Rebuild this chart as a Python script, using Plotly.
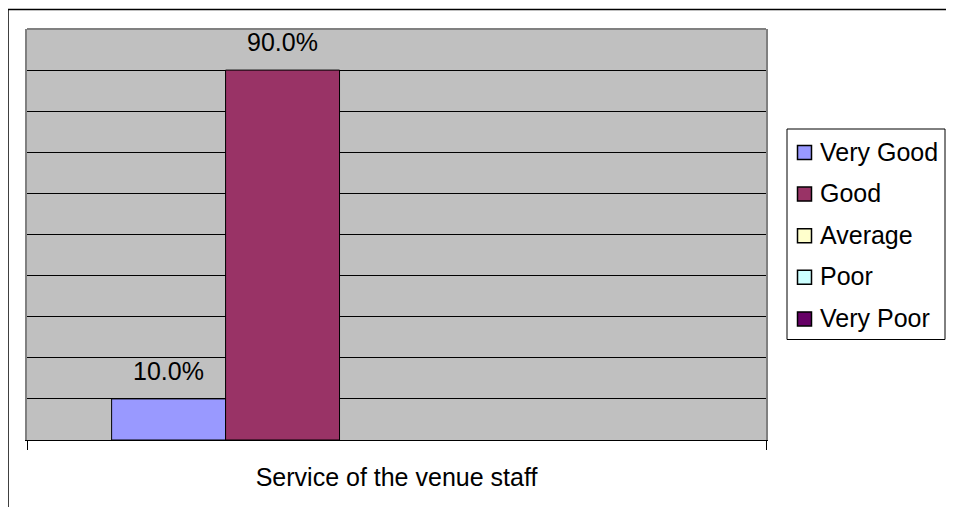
import plotly.graph_objects as go

# data
category = ["Service of the venue staff"]
series = ["Very Good", "Good", "Average", "Poor", "Very Poor"]
values = [10.0, 90.0, 0.0, 0.0, 0.0]
colors = ["#9999FF", "#993366", "#FFFFCC", "#CCFFFF", "#660066"]

OFF = 8  # page body margin
W, H = 954 - OFF, 515 - 2 * OFF  # keep the page free of scrollbars
ML, MT = 27 - OFF, 29 - OFF
PW, PH = 739, 411
MR, MB = W - ML - PW, H - MT - PH
BARGAP = 0.229
FONT = "Liberation Sans, Arial, sans-serif"


def px_x(x):
    # page pixel -> paper coordinate
    return (x - OFF - ML) / PW


def px_y(y):
    return (MT + PH - (y - OFF)) / PH


fig = go.Figure()
for name, v, c in zip(series, values, colors):
    fig.add_trace(go.Bar(
        x=category, y=[v], name=name, showlegend=False,
        marker=dict(color=c, line=dict(color="black", width=1 if v else 0)),
    ))

# data labels above the bars
bar_px = PW * (1 - BARGAP) / len(series)
for i, v in enumerate(values):
    if v:
        fig.add_annotation(
            x=category[0], y=v, text=f"{v:.1f}%", showarrow=False,
            yanchor="bottom", yshift=12,
            xshift=(i - (len(series) - 1) / 2) * bar_px,
            font=dict(size=25, color="black", family=FONT),
        )

# plot area top border (gray) and outer chart frame
fig.add_shape(type="line", xref="paper", yref="paper", x0=0, x1=1, y0=1, y1=1,
              line=dict(color="#808080", width=2), layer="above")
fig.add_shape(type="line", xref="paper", yref="paper",
              x0=px_x(8), x1=px_x(960), y0=px_y(9.5), y1=px_y(9.5),
              line=dict(color="black", width=1.5))
fig.add_shape(type="line", xref="paper", yref="paper",
              x0=px_x(8), x1=px_x(8), y0=px_y(9.5), y1=px_y(520),
              line=dict(color="black", width=1.5))

# legend box, drawn by hand to match the row spacing
fig.add_shape(type="rect", xref="paper", yref="paper",
              x0=px_x(787), x1=px_x(945), y0=px_y(129), y1=px_y(339.5),
              line=dict(color="black", width=1), fillcolor="white")
row_y0, row_step = 152.5, 41.6
for i, (name, c) in enumerate(zip(series, colors)):
    yc = row_y0 + i * row_step
    fig.add_shape(type="rect", xref="paper", yref="paper",
                  x0=px_x(797.5), x1=px_x(811.5), y0=px_y(yc - 7), y1=px_y(yc + 7),
                  line=dict(color="black", width=1.5), fillcolor=c)
    fig.add_annotation(x=px_x(818), y=px_y(yc - 1), xref="paper", yref="paper",
                       text=name, showarrow=False, xanchor="left", yanchor="middle",
                       font=dict(size=25, color="black", family=FONT))

fig.update_layout(
    width=W, height=H,
    margin=dict(l=ML, r=MR, t=MT, b=MB),
    paper_bgcolor="white", plot_bgcolor="#C0C0C0",
    barmode="group", bargap=BARGAP, bargroupgap=0,
    font=dict(family=FONT, size=25, color="black"),
    showlegend=False,
)
fig.update_xaxes(
    type="category", showline=True, linecolor="black", linewidth=1,
    ticks="outside", tickson="boundaries", ticklen=9, tickcolor="black",
    showgrid=False, ticklabelstandoff=15,
    tickfont=dict(size=25, family=FONT, color="black"),
)
fig.update_yaxes(
    range=[0, 100], dtick=10, showgrid=True, gridcolor="black", gridwidth=1,
    showticklabels=False, ticks="", zeroline=False,
    showline=True, linecolor="#808080", linewidth=2, mirror=True,
)

fig.write_html("out.html")
